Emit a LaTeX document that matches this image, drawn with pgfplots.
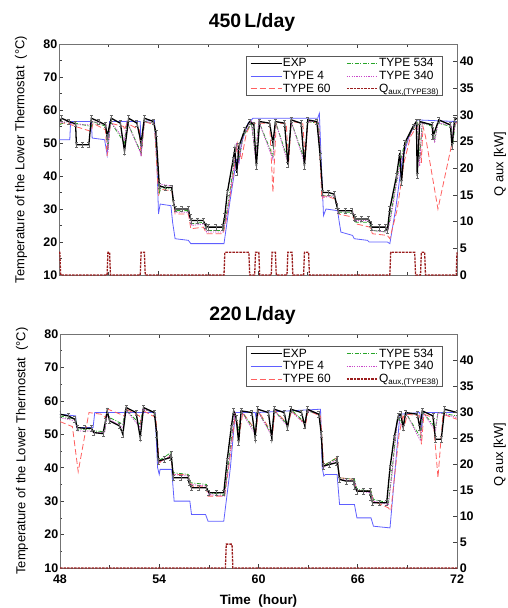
\documentclass[border=0pt]{standalone}
\usepackage{fontspec}
\setmainfont{Liberation Sans}
\usepackage{pgfplots}
\pgfplotsset{compat=1.18}
\definecolor{cT4}{RGB}{95,95,255}
\definecolor{cT60}{RGB}{255,95,95}
\definecolor{cT534}{RGB}{40,165,40}
\definecolor{cT340}{RGB}{200,70,200}
\definecolor{cQ}{RGB}{155,30,30}
\pgfplotsset{
 legend image code/.code={\draw[#1] (0bp,0bp) -- (31bp,0bp);},
 base/.style={scale only axis, xmin=48, xmax=72,
   /pgf/number format/assume math mode=true,
   tick align=inside, major tick length=4bp, minor tick length=2.5bp,
   ticklabel style={font=\bfseries\fontsize{12.5}{12.5}\selectfont, inner sep=1.5bp},
   axis line style={black!55, line width=0.8pt},
   tick style={black!75, line width=0.6pt}},
 leftax/.style={base, ymin=10, ymax=80, ytick={10,20,...,80}, minor y tick num=1,
   ytick pos=left, xtick={48,54,...,72}, minor x tick num=1, xtick pos=both,
   xticklabel style={yshift=-5.5bp},
   ylabel={Temperature of the Lower Thermostat\ \ (°C)},
   ylabel style={at={(axis description cs:-0.0955,0.5)}, anchor=center,
     font=\fontsize{13}{13}\selectfont},
   title style={at={(axis description cs:0.485,1)}, anchor=center,
     font=\bfseries\fontsize{19.5}{19.5}\selectfont},
   legend columns=2,
   legend cell align=left,
   legend style={at={(axis description cs:0.965,0.948)}, anchor=north east,
     draw=black!65, line width=1pt, font=\fontsize{12}{12}\selectfont,
     inner xsep=3bp, inner ysep=1.5bp, nodes={inner sep=0.6bp}, row sep=1.6bp,
     /tikz/every even column/.append style={column sep=15bp}}},
 rightax/.style={base, ymin=0, axis y line*=right, axis x line=none,
   ytick={0,5,...,40}, clip=false,
   yticklabel style={inner sep=0.6bp, xshift=2bp},
   ylabel={Q aux [kW]},
   ylabel style={at={(axis description cs:1.108,0.48)}, anchor=center,
     font=\fontsize{13}{13}\selectfont}},
 exp/.style={black, line width=1.3pt,
   error bars/y dir=both, error bars/y fixed=0.8,
   error bars/error bar style={black!60, line width=0.4pt},
   error bars/error mark options={rotate=90, mark size=1.5bp, black!60, line width=0.4pt}},
 t4/.style={cT4, line width=0.8pt},
 t60/.style={cT60, line width=0.8pt, dash pattern=on 6bp off 3bp},
 t534/.style={cT534, line width=0.8pt, dash pattern=on 4bp off 1.5bp on 1bp off 1.5bp},
 t340/.style={cT340, line width=0.8pt, dash pattern=on 1.2bp off 1.2bp},
 tq/.style={cQ, line width=1.3pt, dash pattern=on 2.5bp off 1bp},
}
\begin{document}
\begin{tikzpicture}
\useasboundingbox (-60bp,-40bp) rectangle (448bp,568bp);
%================ TOP PANEL ================
\begin{axis}[leftax, at={(-1bp,293bp)}, anchor=south west, width=398bp, height=231bp,
  xticklabels={}, title={450\,L/day}, title style={yshift=15.5bp}]
\addplot[t4, forget plot] coordinates {(48,51) (48.65,51) (48.7,56.5) (49.95,56.5) (50.0,51.5) (50.75,51) (50.9,46.5) (51.05,56.5) (52.9,56.5) (52.95,46) (53.1,56.5) (53.75,57) (53.9,45) (54.0,28.5) (54.1,31.5) (54.75,31) (54.85,26) (55.0,21) (55.8,20.5) (55.95,19.5) (57.95,19.5) (58.3,32) (58.7,45) (58.85,44) (59.0,50) (59.4,56) (59.7,57.5) (63.6,57.5) (63.7,59) (63.85,40) (63.95,28) (64.1,30) (64.8,29.5) (64.9,26) (65.0,23) (65.7,22) (65.8,21) (66.6,20.5) (66.7,20) (67.8,20) (67.95,19.5) (68.3,30) (68.7,45) (69.1,52) (69.6,57) (72,56.5)};
\addplot[t60, forget plot] coordinates {(48,56) (48.5,56) (49.0,55) (49.95,53.5) (50.05,56) (50.8,54) (50.9,46) (51.1,56) (51.9,55) (51.95,54) (52.1,56) (52.85,54) (52.95,46) (53.15,56.5) (53.75,55.5) (54.0,34) (54.1,36) (54.8,35.5) (55.0,28.5) (55.8,28.5) (55.95,24) (56.7,24.5) (56.9,22.5) (57.9,22.5) (58.1,27) (58.5,40) (58.75,50) (59.0,45) (59.3,53) (59.6,56) (60.7,56) (60.9,35) (61.1,56) (61.7,56) (61.85,44) (62.0,56.5) (62.7,56) (62.85,45) (63.0,56.5) (63.65,56) (63.85,33) (64.0,34) (64.7,33) (64.85,28.5) (65.75,27.5) (65.9,25.5) (66.75,24.5) (66.9,22.5) (67.8,22) (67.95,21) (68.4,30) (68.8,44) (69.2,52) (69.7,56) (69.85,44) (69.95,55) (70.1,52) (70.85,30) (71.7,50) (71.85,55) (72,56.5)};
\addplot[t534, forget plot] coordinates {(48,55.5) (48.5,56.5) (49,56) (49.95,55) (50.05,56.5) (50.85,55) (50.95,48) (51.1,56.5) (51.95,50) (52.1,56.5) (52.95,47) (53.15,56.5) (53.75,56) (54.05,35) (54.15,36.5) (54.8,36) (55.0,29.5) (55.8,29.5) (56.0,25.5) (56.75,26) (56.9,23.5) (57.9,23.5) (58.15,30) (58.5,42) (58.7,50) (58.85,45) (59.1,52) (59.6,56) (59.85,46) (60.05,56.5) (60.9,46) (61.05,56.5) (61.8,45) (62.0,56.5) (62.8,45) (63.0,56.5) (63.65,56) (63.9,34) (64.6,34) (64.85,29) (65.7,29) (65.9,26) (66.7,26) (66.9,23.5) (67.8,23) (68.0,28) (68.4,40) (68.75,48) (69.3,54) (69.6,56) (69.75,45) (69.9,56) (70.55,55) (70.65,51) (70.85,56) (71.65,55) (71.75,50) (71.9,56) (72,56.5)};
\addplot[t340, forget plot] coordinates {(48,56) (48.5,56.5) (49,55.5) (49.95,55.5) (50.05,56.5) (50.85,55.5) (50.95,47) (51.1,56.5) (51.95,51) (52.1,56.5) (52.95,46.5) (53.15,56.5) (53.75,56) (54.05,36) (54.15,37.5) (54.8,37) (55.0,29) (55.8,29) (56.0,25) (56.75,25.5) (56.9,23) (57.9,23) (58.15,29) (58.5,41) (58.7,50) (58.85,44) (59.1,52) (59.6,56.5) (59.85,45) (60.05,56.5) (60.9,45) (61.05,56.5) (61.8,44) (62.0,56.5) (62.8,44) (63.0,56.5) (63.65,56.5) (63.9,33.5) (64.6,34) (64.85,29.5) (65.7,29.5) (65.9,26.5) (66.7,26.5) (66.9,23.5) (67.8,23) (68.0,27) (68.4,39) (68.75,47) (69.3,54) (69.6,56) (69.75,43) (69.9,56) (70.55,55.5) (70.65,50) (70.85,56) (71.65,55.5) (71.75,51) (71.9,56) (72,56.5)};
\addplot[exp, forget plot] coordinates {(48.0,56) (48.15,57.5) (48.6,56.5) (49.0,55.8) (49.05,49.5) (49.4,49.5) (49.8,49.5) (49.95,57.5) (50.4,56.5) (50.8,55.5) (50.9,52) (51.15,57.5) (51.7,56) (51.95,47.5) (52.2,57.5) (52.7,56) (52.95,50) (53.15,57.5) (53.7,56.5) (53.85,53) (54.05,37) (54.4,36.5) (54.8,36.5) (54.9,32) (55.0,30) (55.4,30) (55.8,30) (55.9,27.5) (56.0,26.5) (56.35,26.5) (56.7,26.5) (56.85,25) (57.0,24.5) (57.45,24.5) (57.87,24.5) (58.0,28) (58.15,35) (58.5,45) (58.6,48) (58.72,41) (58.85,49) (59.2,54) (59.5,56.5) (59.75,55.5) (59.9,43) (60.1,56.5) (60.7,56) (60.9,50) (61.05,56.5) (61.6,56) (61.8,43.5) (62.0,57) (62.6,56) (62.8,43) (63.0,57) (63.55,56.5) (63.75,46) (63.9,35) (64.25,35) (64.6,34.5) (64.75,31) (64.85,29.5) (65.25,29.5) (65.65,29.5) (65.8,27.5) (65.85,27) (66.25,27) (66.65,27) (66.8,25.5) (66.85,24.5) (67.3,24.5) (67.7,24.5) (67.8,23.5) (67.95,30) (68.35,40) (68.55,47) (68.65,38) (68.85,50) (69.35,55) (69.55,56.5) (69.6,40) (69.75,56.5) (70.5,55.5) (70.55,52) (70.9,57) (71.6,55.5) (71.7,49) (71.85,57) (72,57.5)};
\addlegendimage{black, line width=1.3pt}\addlegendentry{EXP}
\addlegendimage{t534}\addlegendentry{TYPE 534}
\addlegendimage{t4}\addlegendentry{TYPE 4}
\addlegendimage{t340}\addlegendentry{TYPE 340}
\addlegendimage{t60}\addlegendentry{TYPE 60}
\addlegendimage{tq}\addlegendentry{Q\textsubscript{aux,(TYPE38)}}
\end{axis}
\begin{axis}[rightax, at={(-1bp,293bp)}, anchor=south west, width=398bp, height=231bp, ymax=43.3]
\addplot[tq] coordinates {(48,4.25) (48.05,4.25) (48.1,0) (50.9,0) (50.95,4.25) (51.05,4.25) (51.1,0) (52.9,0) (52.95,4.25) (53.15,4.25) (53.2,0) (57.95,0) (58.0,4.25) (59.45,4.25) (59.5,0) (59.8,0) (59.85,4.25) (60.05,4.25) (60.1,0) (60.8,0) (60.85,4.25) (61.05,4.25) (61.1,0) (61.75,0) (61.8,4.25) (62.05,4.25) (62.1,0) (62.75,0) (62.8,4.25) (63.05,4.25) (63.1,0) (67.95,0) (68.0,4.25) (69.45,4.25) (69.5,0) (69.8,0) (69.85,4.25) (70.05,4.25) (70.1,0) (71.95,0) (72,4.25)};
\end{axis}
%================ BOTTOM PANEL ================
\begin{axis}[leftax, at={(0bp,0bp)}, anchor=south west, width=397bp, height=234bp,
  xticklabels={48,54,60,66,72}, title={220\,L/day}, title style={yshift=12.5bp},
  xlabel={Time\ \ (hour)},
  xlabel style={at={(axis description cs:0.5,0)}, anchor=center, yshift=-33.5bp,
    font=\bfseries\fontsize{13.5}{13.5}\selectfont}]
\addplot[t4, forget plot] coordinates {(48,56) (48.95,55.5) (49.0,52) (50.0,52) (50.1,56.5) (53.75,56.5) (53.9,40) (54.0,38) (54.05,39.5) (54.75,39.5) (54.9,30) (55.85,30) (55.95,26) (56.8,26) (56.95,24) (57.9,24) (58.3,40) (58.6,56.5) (59.8,56.5) (59.85,55) (59.9,56.5) (63.75,57.5) (63.85,40) (63.95,37.5) (64.05,38) (64.75,38) (64.9,29) (65.8,29) (65.95,25) (66.8,25) (66.95,22.5) (67.95,22) (68.55,56) (69.75,56.5) (69.85,51) (69.95,56.5) (72,56.5)};
\addplot[t60, forget plot] coordinates {(48,53.8) (48.75,52.3) (49.1,38.8) (49.75,56.5) (50.5,56) (50.75,55) (50.9,57.5) (51.9,55.5) (52.0,57.5) (52.8,55.5) (52.9,53) (53.05,57) (53.8,55) (54.0,41) (54.1,42) (54.7,43.5) (54.85,38) (55.7,38) (55.85,36) (56.0,34.5) (56.8,34.5) (56.95,31.5) (57.95,31.5) (58.25,42) (58.6,56) (58.85,50) (59.05,56.5) (59.85,51) (60.0,57) (60.85,50) (61.0,57) (61.8,53) (62.0,57) (62.85,53) (63.0,57) (63.75,55.5) (63.95,40) (64.05,41) (64.75,43) (64.9,37) (65.8,36.5) (65.95,33) (66.8,33) (66.95,30) (67.85,28) (68.0,27) (68.5,50) (68.75,56) (68.85,53) (69.0,56) (69.75,55.5) (69.85,47) (70.0,56) (70.55,55) (70.85,37) (71.15,56) (72,54.5)};
\addplot[t534, forget plot] coordinates {(48,55.5) (48.95,54.5) (49.05,51.5) (49.9,51.5) (50.0,51) (50.7,50.8) (50.85,56.5) (51.0,55) (51.8,53) (51.95,57.5) (52.85,53) (53.0,57.5) (53.75,56.5) (53.95,42) (54.7,44.5) (54.85,38.5) (55.75,38) (55.9,35.5) (56.85,35) (57.0,32.5) (57.95,32) (58.2,42) (58.55,56.5) (58.8,51) (58.95,57) (59.8,51) (59.95,57) (60.8,50) (60.95,57) (61.75,53) (61.95,57.5) (62.8,53.5) (62.95,57) (63.7,56) (63.9,40.5) (64.75,43) (64.9,37) (65.8,36.5) (65.95,33.5) (66.8,33) (66.95,30.5) (67.85,29.5) (68.05,38) (68.4,55) (68.75,53) (68.9,56.5) (69.8,49) (69.95,56.5) (70.7,52) (70.85,56.5) (72,55.5)};
\addplot[t340, forget plot] coordinates {(48,55) (48.95,54) (49.05,51) (49.9,51) (50.0,50.5) (50.7,50.5) (50.85,56) (51.0,54.5) (51.8,52) (51.95,57.5) (52.85,52) (53.0,57.5) (53.75,56.5) (53.95,41.5) (54.7,43.5) (54.85,38) (55.75,37.5) (55.9,35) (56.85,34.5) (57.0,32) (57.95,31.5) (58.2,41) (58.55,56) (58.8,49) (58.95,57) (59.8,50) (59.95,57) (60.8,49.5) (60.95,57) (61.75,52.5) (61.95,57) (62.8,53) (62.95,57) (63.7,56) (63.9,40) (64.75,42.5) (64.9,36.5) (65.8,36) (65.95,33) (66.8,32.5) (66.95,30) (67.85,29) (68.05,37) (68.4,54.5) (68.75,52) (68.9,56.5) (69.8,48) (69.95,56.5) (70.7,51) (70.85,56.5) (72,55)};
\addplot[exp, forget plot] coordinates {(48,56) (48.5,55.5) (48.9,54.5) (49.05,52) (49.5,51.8) (49.9,51.8) (50.05,50.5) (50.6,50.2) (50.75,54) (50.85,57) (51.0,54) (51.6,52.5) (51.8,50) (52.0,58) (52.6,56.5) (52.85,49) (53.05,58) (53.7,56.5) (53.85,50) (53.95,42) (54.3,42.5) (54.65,43) (54.72,44) (54.85,37) (55.3,37) (55.75,37) (55.8,35.5) (55.95,34) (56.4,34) (56.85,34) (57.0,32.5) (57.45,32.5) (57.9,32.5) (58.1,42) (58.35,52) (58.5,57) (58.65,55) (58.8,47.5) (58.95,57) (59.6,56.5) (59.8,49) (59.95,57.5) (60.6,56.5) (60.8,49) (60.95,57.5) (61.55,56.5) (61.75,52) (61.95,57.5) (62.6,56.5) (62.8,52.5) (62.95,57.5) (63.65,56) (63.8,50) (63.9,40.5) (64.3,41) (64.7,41.5) (64.75,42.5) (64.9,36.5) (65.3,36) (65.75,36) (65.8,34.5) (65.95,33) (66.35,33) (66.75,33) (66.8,31) (66.9,29.5) (67.3,29.5) (67.75,29.5) (67.95,40) (68.2,49) (68.45,55.5) (68.6,56) (68.75,52) (68.9,56.5) (69.6,56) (69.75,52) (69.9,57) (70.55,55.5) (70.7,48.5) (71.05,48.5) (71.25,57.5) (72,56.5)};
\addlegendimage{black, line width=1.3pt}\addlegendentry{EXP}
\addlegendimage{t534}\addlegendentry{TYPE 534}
\addlegendimage{t4}\addlegendentry{TYPE 4}
\addlegendimage{t340}\addlegendentry{TYPE 340}
\addlegendimage{t60}\addlegendentry{TYPE 60}
\addlegendimage{tq}\addlegendentry{Q\textsubscript{aux,(TYPE38)}}
\end{axis}
\begin{axis}[rightax, at={(0bp,0bp)}, anchor=south west, width=397bp, height=234bp, ymax=45.1,
  ylabel style={at={(axis description cs:1.108,0.484)}}]
\addplot[tq] coordinates {(48,0) (58.0,0) (58.05,4.6) (58.4,4.6) (58.45,0) (72,0)};
\end{axis}
\end{tikzpicture}
\end{document}
